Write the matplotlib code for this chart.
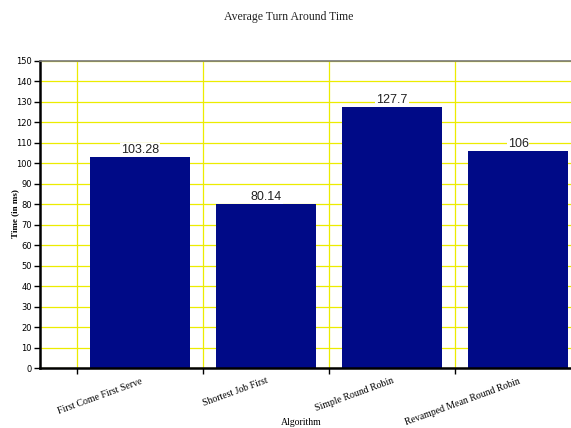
import numpy as np
import matplotlib.pyplot as plt

algorithms = ["First Come First Serve", "Shortest Job First",
              "Simple Round Robin", "Revamped Mean Round Robin"]
turnaround = [103.28, 80.14, 127.7, 106]
value_text = ["103.28", "80.14", "127.7", "106"]
y_ticks = list(range(0, 151, 10))

fig = plt.figure(figsize=(5.71, 4.28), dpi=100)
ax = fig.add_axes([0.070, 0.140, 0.930, 0.7175])

x = np.arange(len(algorithms))
bars = ax.bar(x, turnaround, width=0.8, color="#000a87", zorder=2)

# category boundaries carry the vertical grid and the tick marks
ax.set_xticks(x - 0.5, minor=True)
ax.set_xticks(x)
ax.set_xticklabels(algorithms, rotation=20, ha="right", rotation_mode="anchor",
                   family="Liberation Serif", fontsize=7)
ax.tick_params(axis="x", which="major", length=0, pad=6)
ax.tick_params(axis="x", which="minor", length=4, width=1, color="black")
ax.grid(True, which="minor", axis="x", color="#ecec00", lw=0.9, zorder=0)

ax.set_xlim(-0.794, 3.42)
ax.set_ylim(0, 150)
ax.set_yticks(y_ticks)
ax.tick_params(axis="y", labelsize=6, length=4, width=1, pad=2)
ax.grid(True, which="major", axis="y", color="#ecec00", lw=0.9, zorder=0)

for spine in ["left", "bottom"]:
    ax.spines[spine].set_linewidth(1.8)
    ax.spines[spine].set_color("black")
ax.spines["top"].set_color("#777777")
ax.spines["top"].set_linewidth(1.2)
ax.spines["right"].set_visible(False)

for b, txt in zip(bars, value_text):
    ax.text(b.get_x() + b.get_width() / 2, b.get_height() + 0.3, txt,
            ha="center", va="bottom", family="Liberation Sans", fontsize=9,
            color="#222222", zorder=3,
            bbox=dict(facecolor="white", edgecolor="none", pad=0.6))

fig.text(0.026, 0.50, "Time (in ms)", rotation=90, ha="center", va="center",
         family="Liberation Serif", fontsize=6.5, fontweight="bold")
fig.text(0.527, 0.012, "Algorithm", ha="center", va="center",
         family="Liberation Serif", fontsize=7)
fig.text(0.506, 0.96, "Average Turn Around Time", ha="center", va="center",
         family="Liberation Serif", fontsize=8.5, color="#222222")

fig.savefig("out.png", dpi=100, facecolor="white")
